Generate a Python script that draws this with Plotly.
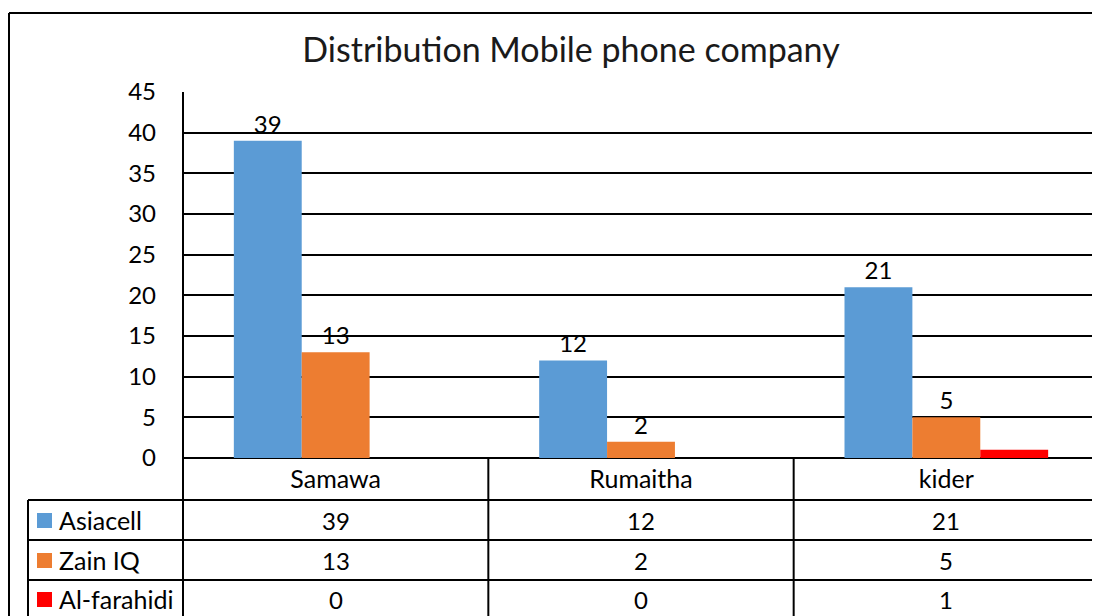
import plotly.graph_objects as go

W, H = 1100, 616

categories = ["Samawa", "Rumaitha", "kider"]
series_names = ["Asiacell", "Zain IQ", "Al-farahidi"]
asiacell = [39, 12, 21]
zain_iq = [13, 2, 5]
al_farahidi = [0, 0, 1]
y_ticks = [0, 5, 10, 15, 20, 25, 30, 35, 40, 45]

series_values = [asiacell, zain_iq, al_farahidi]
colors = ["#5B9BD5", "#ED7D31", "#FF0000"]
show_labels = [True, True, False]

FONT = "Lato, 'Noto Sans', sans-serif"
OFF = 8  # page body margin


def px(x):
    return (x - OFF) / W


def py(y):
    return 1 - (y - OFF) / H


fig = go.Figure()
for name, values, color, lab in zip(series_names, series_values, colors, show_labels):
    fig.add_trace(
        go.Bar(
            x=list(range(len(categories))),
            y=values,
            name=name,
            marker_color=color,
            marker_line_width=0,
            text=values if lab else None,
            textposition="outside",
            textfont=dict(size=24, color="#000000", family=FONT),
            cliponaxis=False,
            showlegend=False,
        )
    )

shapes = []
line_k = dict(color="#000000", width=2)
# outer chart border
shapes.append(dict(type="line", xref="paper", yref="paper", x0=px(9), x1=1, y0=py(13), y1=py(13), line=line_k))
shapes.append(dict(type="line", xref="paper", yref="paper", x0=px(9), x1=px(9), y0=py(13), y1=0, line=line_k))
# plot area right edge
shapes.append(dict(type="line", xref="paper", yref="paper", x0=px(1099), x1=px(1099), y0=py(92), y1=0, line=dict(color="#808080", width=1)))
# data table grid
for yy in [500, 540, 580]:
    shapes.append(dict(type="line", xref="paper", yref="paper", x0=px(28), x1=1, y0=py(yy), y1=py(yy), line=line_k))
shapes.append(dict(type="line", xref="paper", yref="paper", x0=px(28), x1=px(28), y0=py(500), y1=0, line=line_k))
shapes.append(dict(type="line", xref="paper", yref="paper", x0=px(183), x1=px(183), y0=py(92), y1=0, line=line_k))
for i in range(1, len(categories)):
    shapes.append(dict(type="line", xref="x", yref="paper", x0=i - 0.5, x1=i - 0.5, y0=py(458), y1=0, line=line_k))

annotations = []
row_centers = [520, 560, 599]
for r, (name, values, color) in enumerate(zip(series_names, series_values, colors)):
    yc = row_centers[r]
    shapes.append(dict(type="rect", xref="paper", yref="paper", x0=px(37), x1=px(52), y0=py(yc - 7), y1=py(yc + 8),
                       fillcolor=color, line=dict(width=0)))
    annotations.append(dict(xref="paper", yref="paper", x=px(57), y=py(yc), text=name, showarrow=False,
                            xanchor="left", yanchor="middle", font=dict(size=25, color="#000000", family=FONT)))
    for c, v in enumerate(values):
        annotations.append(dict(xref="x", yref="paper", x=c, y=py(yc), text=str(v), showarrow=False,
                                xanchor="center", yanchor="middle", font=dict(size=24, color="#000000", family=FONT)))

fig.update_layout(
    width=W,
    height=H,
    margin=dict(l=0, r=0, t=0, b=0, pad=0),
    paper_bgcolor="#FFFFFF",
    plot_bgcolor="#FFFFFF",
    barmode="group",
    bargap=0.333,
    bargroupgap=0,
    font=dict(family=FONT, color="#000000"),
    title=dict(
        text="Distribution Mobile phone company",
        x=px(571),
        y=py(50),
        xanchor="center",
        yanchor="middle",
        automargin=False,
        font=dict(size=34, color="#1a1a1a", family=FONT),
    ),
    xaxis=dict(
        domain=[px(183), px(1099)],
        range=[-0.5, 2.5],
        tickmode="array",
        tickvals=list(range(len(categories))),
        ticktext=categories,
        showgrid=False,
        zeroline=False,
        showline=False,
        ticks="",
        automargin=False,
        ticklabelstandoff=4,
        tickfont=dict(size=25, color="#000000", family=FONT),
        fixedrange=True,
    ),
    yaxis=dict(
        domain=[py(458), py(92)],
        range=[0, 45],
        tickmode="array",
        tickvals=y_ticks,
        showgrid=True,
        gridcolor="#000000",
        gridwidth=2,
        zeroline=True,
        zerolinecolor="#000000",
        zerolinewidth=2,
        showline=False,
        ticks="",
        automargin=False,
        ticklabelstandoff=26,
        tickfont=dict(size=24, color="#000000", family=FONT),
        fixedrange=True,
    ),
    shapes=shapes,
    annotations=annotations,
)

fig.write_html("out.html")
